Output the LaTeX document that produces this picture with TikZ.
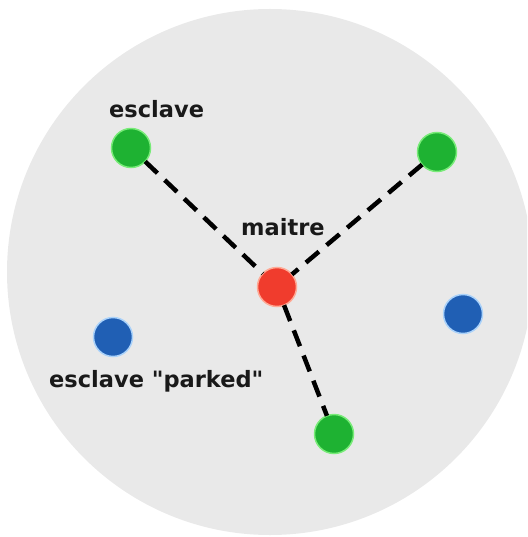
\documentclass[tikz,border=0pt]{standalone}
\usepackage{fontspec}
\setmainfont{DejaVu Sans}[Ligatures=TeXOff]
\definecolor{bggray}{RGB}{233,233,233}
\definecolor{slavegreen}{RGB}{30,178,50}
\definecolor{slavegreenring}{RGB}{120,235,120}
\definecolor{masterred}{RGB}{240,60,45}
\definecolor{masterredring}{RGB}{255,170,150}
\definecolor{parkblue}{RGB}{32,95,180}
\definecolor{parkbluering}{RGB}{170,210,250}
\begin{document}
\begin{tikzpicture}[x=1pt,y=-1pt,
  dev/.style={circle,minimum size=39pt,inner sep=0pt,outer sep=0pt,line width=1.5pt},
  slave/.style={dev,fill=slavegreen,draw=slavegreenring},
  master/.style={dev,fill=masterred,draw=masterredring},
  parked/.style={dev,fill=parkblue,draw=parkbluering},
  link/.style={line width=4.5pt,dash pattern=on 17pt off 10pt,black},
  lbl/.style={font=\fontsize{22.5}{26}\selectfont\bfseries,anchor=base west,inner sep=0pt,text=black!90}]
\useasboundingbox (0,0) rectangle (527,537);
\begin{scope}
\clip (0,0) rectangle (527,537);
\fill[bggray] (270,272) circle[radius=263pt];
\end{scope}
\node[slave] (s1) at (131,148) {};
\node[slave] (s2) at (437,152) {};
\node[slave] (s3) at (334,434) {};
\node[master] (m) at (277,287) {};
\node[parked] (p1) at (113,337) {};
\node[parked] (p2) at (463,314) {};
\draw[link] (s1) -- (m);
\draw[link] (s2) -- (m);
\draw[link] (m) -- (s3);
\node[lbl] (ls) at (109,118) {esclave};
\node[lbl] (lm) at (241,235) {maitre};
\node[lbl] (lp) at (49,387) {esclave "parked"};
\end{tikzpicture}
\end{document}
